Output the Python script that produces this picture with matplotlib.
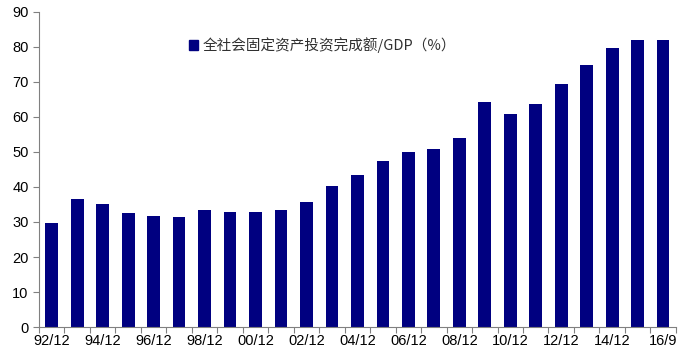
import numpy as np
import matplotlib
matplotlib.use('Agg')
import matplotlib.pyplot as plt
from matplotlib.patches import Patch

plt.rcParams['font.family'] = ['Liberation Sans', 'Noto Sans CJK SC', 'DejaVu Sans']

# 数据
periods = ['92/12', '93/12', '94/12', '95/12', '96/12', '97/12', '98/12', '99/12',
           '00/12', '01/12', '02/12', '03/12', '04/12', '05/12', '06/12', '07/12',
           '08/12', '09/12', '10/12', '11/12', '12/12', '13/12', '14/12', '15/12', '16/9']
ratio = [29.7, 36.5, 35.0, 32.6, 31.8, 31.4, 33.3, 32.9, 32.9, 33.5, 35.8, 40.4,
         43.5, 47.3, 50.0, 50.7, 54.0, 64.3, 60.9, 63.7, 69.3, 74.9, 79.6, 82.1, 82.1]
series_name = '全社会固定资产投资完成额/GDP（%）'

fig = plt.figure(figsize=(6.9, 3.59), dpi=100)
ax = fig.add_axes([0.0565, 0.089, 0.923, 0.878])

x = np.arange(len(periods))
ax.bar(x, ratio, width=0.5, color='#000080')

ax.set_xlim(-0.5, len(periods) - 0.5)
ax.set_ylim(0, 90)
ax.set_yticks(np.arange(0, 91, 10))

# 刻度线在类别边界，标签在柱子中心（隔一个显示）
ax.set_xticks(np.arange(-0.5, len(periods), 1))
ax.set_xticklabels([])
ax.set_xticks(x[::2], minor=True)
ax.set_xticklabels(periods[::2], minor=True)
ax.tick_params(axis='x', which='minor', length=0, pad=5)
ax.tick_params(axis='x', which='major', length=4, direction='out', color='#808080')
ax.tick_params(axis='y', length=4, direction='out', color='#808080')
ax.tick_params(which='both', labelsize=10.5)

for s in ['top', 'right']:
    ax.spines[s].set_visible(False)
for s in ['left', 'bottom']:
    ax.spines[s].set_color('#808080')

handle = Patch(color='#000080')
ax.legend([handle], [series_name], loc='upper left', bbox_to_anchor=(0.215, 0.96),
          frameon=False, handlelength=0.6, handleheight=0.7, handletextpad=0.3,
          prop={'family': ['Noto Sans CJK SC', 'DejaVu Sans'], 'size': 10.5},
          labelcolor='#303030')

fig.savefig('out.png', dpi=100)
